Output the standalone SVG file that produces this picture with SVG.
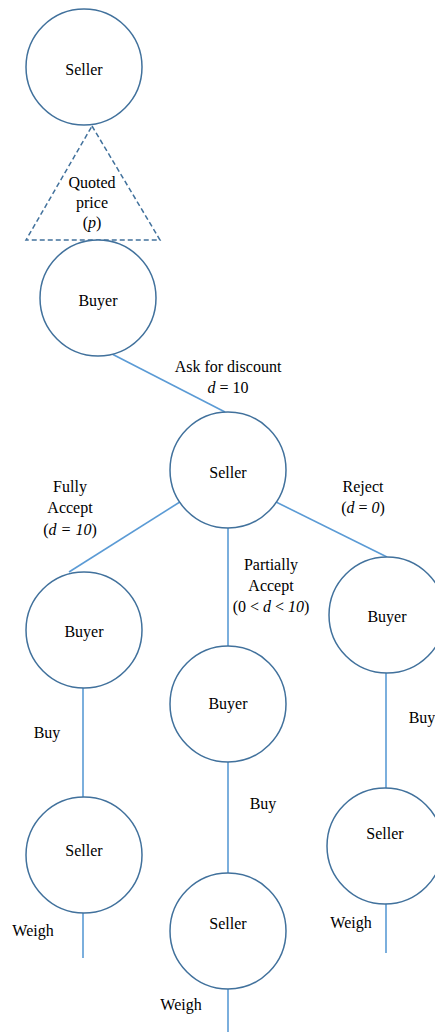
<svg xmlns="http://www.w3.org/2000/svg" width="435" height="1032" viewBox="0 0 435 1032">
<style>
.node{fill:#fff;stroke:#41719C;stroke-width:1.5}
.edge{stroke:#5B9BD5;stroke-width:1.6;fill:none}
text{font-family:"Liberation Serif","Times New Roman",serif;font-size:16px;fill:#000;text-anchor:middle}
.i{font-style:italic}
</style>
<rect width="435" height="1032" fill="#fff"/>
<g id="connectors">
<line class="edge" x1="112" y1="354" x2="225" y2="412"/>
<line class="edge" x1="183" y1="500" x2="69" y2="572"/>
<line class="edge" x1="228" y1="528" x2="228" y2="647"/>
<line class="edge" x1="272" y1="500" x2="387" y2="557"/>
<line class="edge" x1="83" y1="688" x2="83" y2="797"/>
<line class="edge" x1="228" y1="762" x2="228" y2="873"/>
<line class="edge" x1="386" y1="673" x2="386" y2="788"/>
<line class="edge" x1="83" y1="913" x2="83" y2="958"/>
<line class="edge" x1="228" y1="989" x2="228" y2="1032"/>
<line class="edge" x1="386" y1="904" x2="386" y2="953"/>
</g>
<g id="quoted-price">
<polygon points="92,126 160,240 26,240" fill="none" stroke="#41719C" stroke-width="1.5" stroke-dasharray="5,3"/>
<text x="92" y="188">Quoted</text>
<text x="92" y="208">price</text>
<text x="92" y="228">(<tspan class="i">p</tspan>)</text>
</g>
<g id="seller-root"><circle class="node" cx="84" cy="67" r="58"/><text x="84" y="75">Seller</text></g>
<g id="buyer-root"><circle class="node" cx="98" cy="298" r="58"/><text x="98" y="306">Buyer</text></g>
<g id="seller-decide"><circle class="node" cx="228" cy="470" r="58"/><text x="228" y="478">Seller</text></g>
<g id="buyer-full"><circle class="node" cx="84" cy="630" r="58"/><text x="84" y="637">Buyer</text></g>
<g id="buyer-partial"><circle class="node" cx="228" cy="704" r="58"/><text x="228" y="709">Buyer</text></g>
<g id="buyer-reject"><circle class="node" cx="387" cy="615" r="58"/><text x="387" y="622">Buyer</text></g>
<g id="seller-full"><circle class="node" cx="84" cy="855" r="58"/><text x="84" y="856">Seller</text></g>
<g id="seller-partial"><circle class="node" cx="228" cy="931" r="58"/><text x="228" y="929">Seller</text></g>
<g id="seller-reject"><circle class="node" cx="385" cy="846" r="58"/><text x="385" y="839">Seller</text></g>
<g id="labels">
<text x="228" y="372">Ask for discount</text>
<text x="228" y="393"><tspan class="i">d</tspan> = 10</text>
<text x="70" y="492">Fully</text>
<text x="70" y="513">Accept</text>
<text x="70" y="535">(<tspan class="i">d = 10</tspan>)</text>
<text x="271" y="570">Partially</text>
<text x="271" y="591">Accept</text>
<text x="271" y="612">(0 &lt; <tspan class="i">d</tspan> &lt; <tspan class="i">10</tspan>)</text>
<text x="363" y="492">Reject</text>
<text x="363" y="513">(<tspan class="i">d</tspan> = <tspan class="i">0</tspan>)</text>
<text x="47" y="738">Buy</text>
<text x="263" y="809">Buy</text>
<text x="422" y="723">Buy</text>
<text x="33" y="936">Weigh</text>
<text x="181" y="1010">Weigh</text>
<text x="351" y="928">Weigh</text>
</g>
</svg>
